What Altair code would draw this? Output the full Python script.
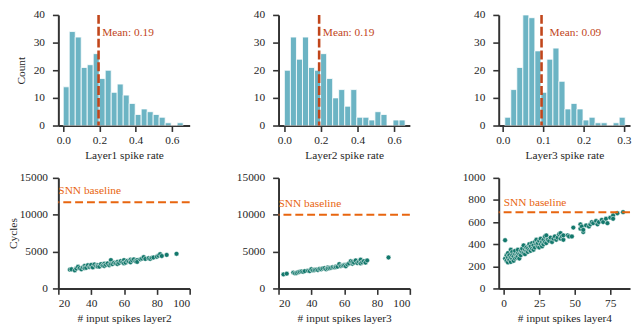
import altair as alt
import pandas as pd

# ---------------- data ----------------
# histograms: bin start, bin width, counts
H1_START, H1_WIDTH = 0.0, 0.0331
H1_COUNTS = [14, 34, 32, 21, 22, 26, 17, 20, 12, 15, 11, 8, 4, 6, 5, 4, 3, 1, 0, 1]
H2_START, H2_WIDTH = 0.0, 0.033
H2_COUNTS = [20, 32, 24, 32, 21, 20, 26, 17, 10, 13, 7, 13, 3, 3, 2, 5, 4, 0, 2, 2]
H3_START, H3_WIDTH = 0.005, 0.0149
H3_COUNTS = [3, 13, 21, 40, 39, 27, 12, 24, 28, 16, 6, 8, 6, 2, 3, 1, 1, 0, 1, 3]
MEANS = [0.195, 0.19, 0.096]
MEAN_LABELS = ["Mean: 0.19", "Mean: 0.19", "Mean: 0.09"]
HIST_TITLES = ["Layer1 spike rate", "Layer2 spike rate", "Layer3 spike rate"]

# scatter: input spikes vs cycles
S1_X = [27, 28, 30, 31, 32, 33, 34, 35, 36, 36, 37, 38, 39, 40, 40, 41, 42, 43, 44, 44,
        45, 46, 47, 48, 48, 49, 50, 51, 52, 52, 53, 54, 55, 56, 56, 57, 58, 59, 60, 60,
        61, 62, 63, 64, 64, 65, 66, 67, 68, 68, 70, 71, 72, 73, 75, 76, 77, 78, 80, 81,
        82, 83, 86, 92]
S1_Y = [2550, 2600, 2450, 2700, 2950, 2750, 2600, 2850, 3050, 2750, 2800, 3150, 2900, 3000, 3200,
        2850, 3250, 3050, 3150, 2950, 2950, 3300, 3100, 3350, 3050, 3200, 3400, 3150, 3850, 3300,
        3300, 3500, 3400, 3600, 3300, 3450, 3700, 3550, 3850, 3400, 3500, 3750, 3650, 3900, 3550,
        3800, 3950, 3700, 3850, 3600, 3950, 4050, 4250, 4000, 4100, 4000, 4150, 4200, 4300, 4450,
        4650, 4400, 4550, 4700]
S2_X = [23, 25, 29, 30, 31, 32, 33, 34, 35, 36, 38, 39, 40, 41, 42, 43, 44, 45, 46, 47,
        48, 49, 50, 50, 51, 52, 53, 54, 55, 55, 56, 57, 58, 59, 60, 60, 61, 62, 63, 64,
        65, 65, 66, 67, 68, 69, 70, 70, 71, 72, 73, 74, 87]
S2_Y = [1900, 2000, 2150, 2050, 2100, 2200, 2250, 2300, 2250, 2350, 2400, 2350, 2600, 2450, 2500,
        2550, 2500, 2650, 2600, 2700, 2750, 2600, 2850, 2700, 2750, 2800, 2900, 2850, 3000, 2900,
        2950, 3300, 3050, 3100, 3200, 3100, 3000, 3250, 3400, 3700, 3350, 3600, 3500, 3800, 3450,
        3600, 3900, 3400, 3550, 3700, 3500, 3800, 4200]
S3_X = [1, 1, 2, 2, 3, 3, 3, 4, 4, 5, 5, 5, 6, 6, 6, 7, 7, 8, 8, 8, 9, 9, 10, 10, 10, 11, 11,
        12, 12, 13, 13, 14, 14, 15, 15, 16, 16, 17, 17, 18, 18, 19, 19, 20, 20, 21, 21, 22, 22,
        23, 23, 24, 24, 25, 25, 26, 26, 27, 27, 28, 28, 29, 29, 30, 30, 31, 32, 33, 34, 35, 36,
        37, 38, 39, 40, 40, 41, 42, 42, 45, 46, 48, 49, 54, 54, 55, 56, 56, 58, 60, 61, 62, 63,
        65, 66, 67, 69, 70, 72, 73, 75, 77, 77, 80, 84]
S3_Y = [436, 270, 300, 250, 320, 280, 235, 260, 300, 350, 240, 280, 330, 270, 300, 290, 250,
        310, 270, 340, 300, 280, 320, 350, 290, 310, 270, 340, 300, 330, 360, 320, 390, 350, 310,
        340, 370, 360, 330, 400, 350, 380, 340, 360, 410, 390, 350, 420, 370, 400, 440, 380, 410,
        430, 370, 400, 450, 420, 380, 440, 400, 470, 420, 480, 410, 440, 430, 460, 420, 450, 470,
        440, 460, 490, 500, 450, 470, 440, 480, 480, 470, 470, 550, 580, 540, 560, 510, 530, 570,
        560, 580, 600, 590, 610, 580, 600, 620, 600, 630, 590, 640, 660, 630, 680, 690]
BASELINES = [11700, 10000, 690]
BASELINE_LABEL_X = [20, 20, 0]
SCAT_TITLES = ["# input spikes layer2", "# input spikes layer3", "# input spikes layer4"]

# ---------------- styling ----------------
FONT = "Liberation Serif"
FS = 11.5
BAR_COLOR = "#6cb4c4"
PT_COLOR = "#13786c"
MEAN_COLOR = "#c1461b"
BASE_COLOR = "#e8650f"
W, H = 133, 112


def hist_panel(start, width, counts, mean, label, xdom, xticks, xtitle, ytitle, lpad, tpad):
    df = pd.DataFrame({
        "lo": [start + i * width for i in range(len(counts))],
        "hi": [start + (i + 1) * width for i in range(len(counts))],
        "count": counts,
    })
    xs = alt.Scale(domain=xdom, nice=False, zero=False)
    ys = alt.Scale(domain=[0, 40], nice=False)
    xa = alt.Axis(values=xticks, format=".1f", title=xtitle)
    ya = alt.Axis(values=[0, 10, 20, 30, 40], format="d", title=ytitle,
                  labelPadding=lpad, titlePadding=tpad)
    bars = alt.Chart(df).mark_bar(color=BAR_COLOR, stroke="white", strokeWidth=0.8, clip=True).encode(
        x=alt.X("lo:Q", scale=xs, axis=xa),
        x2="hi:Q",
        y=alt.Y("count:Q", scale=ys, axis=ya),
        y2=alt.datum(0),
    )
    mdf = pd.DataFrame({"m": [mean], "tx": [mean + 0.02], "ty": [33.5], "t": [label]})
    rule = alt.Chart(mdf).mark_rule(color=MEAN_COLOR, strokeWidth=2.6, strokeDash=[9, 3]).encode(
        x=alt.X("m:Q", scale=xs, axis=xa))
    txt = alt.Chart(mdf).mark_text(align="left", baseline="middle", color=MEAN_COLOR,
                                   font=FONT, fontSize=FS).encode(
        x=alt.X("tx:Q", scale=xs, axis=xa), y=alt.Y("ty:Q", scale=ys, axis=ya), text="t:N")
    return alt.layer(bars, rule, txt).properties(width=W, height=H)


def scat_panel(xv, yv, base, lx, dy, xdom, xticks, ydom, yticks, xtitle, ytitle, lpad, tpad):
    df = pd.DataFrame({"x": xv, "y": yv})
    xs = alt.Scale(domain=xdom, nice=False, zero=False)
    ys = alt.Scale(domain=ydom, nice=False)
    xa = alt.Axis(values=xticks, format="d", title=xtitle)
    ya = alt.Axis(values=yticks, format="d", title=ytitle, labelPadding=lpad, titlePadding=tpad)
    pts = alt.Chart(df).mark_circle(size=24, color=PT_COLOR, opacity=1, stroke="white",
                                    strokeWidth=0.5, clip=True).encode(
        x=alt.X("x:Q", scale=xs, axis=xa),
        y=alt.Y("y:Q", scale=ys, axis=ya),
    )
    bdf = pd.DataFrame({"b": [base], "lx": [lx], "t": ["SNN baseline"]})
    rule = alt.Chart(bdf).mark_rule(color=BASE_COLOR, strokeWidth=2, strokeDash=[8, 4]).encode(
        y=alt.Y("b:Q", scale=ys, axis=ya))
    txt = alt.Chart(bdf).mark_text(align="left", baseline="middle", color=BASE_COLOR,
                                   font=FONT, fontSize=FS, dy=dy).encode(
        x=alt.X("lx:Q", scale=xs, axis=xa), y=alt.Y("b:Q", scale=ys, axis=ya), text="t:N")
    return alt.layer(pts, rule, txt).properties(width=W, height=H)


p1 = hist_panel(H1_START, H1_WIDTH, H1_COUNTS, MEANS[0], MEAN_LABELS[0], [-0.027, 0.698],
                [0.0, 0.2, 0.4, 0.6], HIST_TITLES[0], "Count", 8, 7)
p2 = hist_panel(H2_START, H2_WIDTH, H2_COUNTS, MEANS[1], MEAN_LABELS[1], [-0.032, 0.686],
                [0.0, 0.2, 0.4, 0.6], HIST_TITLES[1], None, 8, 4)
p3 = hist_panel(H3_START, H3_WIDTH, H3_COUNTS, MEANS[2], MEAN_LABELS[2], [-0.01, 0.315],
                [0.0, 0.1, 0.2, 0.3], HIST_TITLES[2], None, 8, 4)
p4 = scat_panel(S1_X, S1_Y, BASELINES[0], BASELINE_LABEL_X[0], -11, [20, 100], [20, 40, 60, 80, 100],
                [0, 15000], [0, 5000, 10000, 15000], SCAT_TITLES[0], "Cycles", 5, 1)
p5 = scat_panel(S2_X, S2_Y, BASELINES[1], BASELINE_LABEL_X[1], -11, [20, 100], [20, 40, 60, 80, 100],
                [0, 15000], [0, 5000, 10000, 15000], SCAT_TITLES[1], None, 8, 4)
p6 = scat_panel(S3_X, S3_Y, BASELINES[2], BASELINE_LABEL_X[2], -9, [-3.5, 88.9], [0, 25, 50, 75],
                [0, 1000], [0, 200, 400, 600, 800, 1000], SCAT_TITLES[2], None, 8, 4)

chart = alt.concat(p1, p2, p3, p4, p5, p6, columns=3).properties(
    spacing={"row": 53, "column": 90},
    bounds="flush",
    padding={"left": -1, "top": -1, "right": 0, "bottom": 0},
).configure(
    font=FONT,
).configure_view(
    stroke=None,
).configure_axis(
    grid=False,
    labelFont=FONT, titleFont=FONT,
    labelFontSize=FS, titleFontSize=FS,
    labelColor="#262626", titleColor="#262626",
    titleFontWeight="normal",
    domainColor="#333333", domainWidth=2,
    tickColor="#333333", tickWidth=1.6, tickSize=6,
    labelOverlap=False,
).configure_axisX(
    labelPadding=3, titlePadding=4,
)

chart.save("out.html", embed_options={"renderer": "svg", "actions": False})
